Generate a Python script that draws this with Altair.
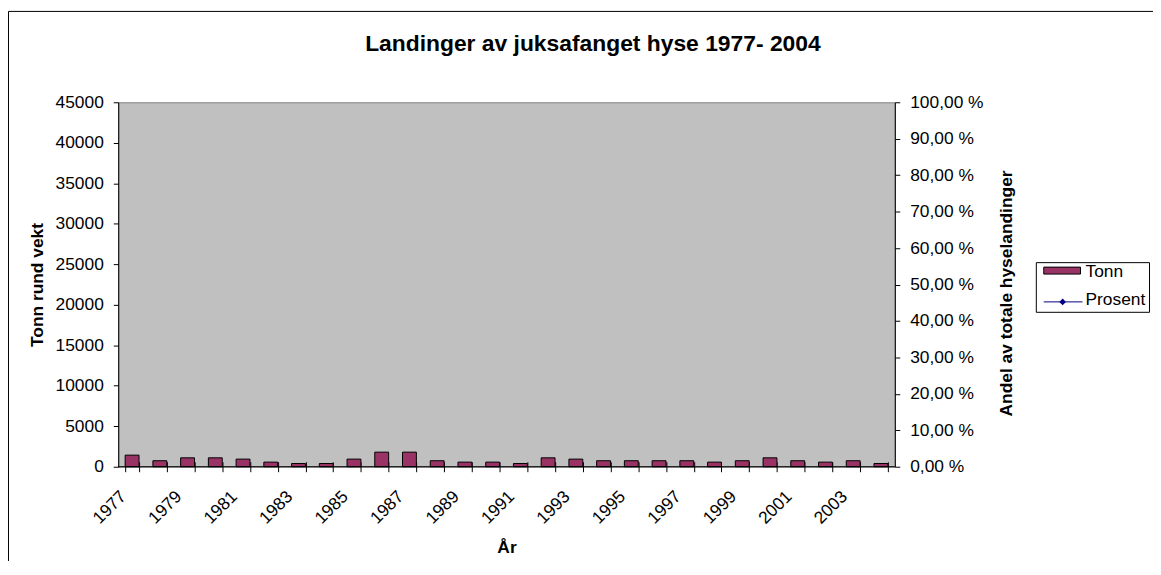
import altair as alt
import pandas as pd

# ---- data ----
years = ["1977", "1978", "1979", "1980", "1981", "1982", "1983", "1984", "1985", "1986",
         "1987", "1988", "1989", "1990", "1991", "1992", "1993", "1994", "1995", "1996",
         "1997", "1998", "1999", "2000", "2001", "2002", "2003", "2004"]
tonn = [1430, 740, 1100, 1100, 940, 570, 400, 400, 940, 1800,
        1800, 740, 570, 570, 400, 1100, 940, 740, 740, 740,
        740, 570, 740, 1100, 740, 570, 740, 400]
prosent = [None, None, None, None, None, None, None, None, None, None,
           None, None, None, None, None, None, None, None, None, None,
           None, None, None, None, None, None, None, None]
left_ticks = [0, 5000, 10000, 15000, 20000, 25000, 30000, 35000, 40000, 45000]
right_ticks = [0.0, 0.1, 0.2, 0.3, 0.4, 0.5, 0.6, 0.7, 0.8, 0.9, 1.0]
series_names = ["Tonn", "Prosent"]
title_text = "Landinger av juksafanget hyse 1977- 2004"

FONT = "Liberation Sans"
FS = 17.5
W, H = 782, 367
BAR = "#993366"
LINE = "#000080"

df = pd.DataFrame({"year": years, "tonn": tonn, "prosent": prosent})
one = pd.DataFrame({"a": [0]})

xenc = alt.X(
    "year:O", sort=None,
    scale=alt.Scale(paddingInner=0.5, paddingOuter=0.25),
    axis=alt.Axis(
        title="År", offset=-5, domain=False, tickSize=10, tickColor="black",
        tickBand="extent", labelAngle=-45, labelAlign="right", labelBaseline="middle",
        labelOffset=-9, labelPadding=22, labelOverlap=False,
        labelExpr="parseInt(datum.value) % 2 == 1 ? datum.value : ''",
        labelFont=FONT, labelFontSize=FS, labelColor="black",
        titleFont=FONT, titleFontSize=FS, titleFontWeight="bold", titleColor="black",
        titleX=W / 2, titleY=91, titleAlign="center", titleBaseline="alphabetic",
    ),
)

bars = alt.Chart(df).mark_bar(fill=BAR, stroke="black", strokeWidth=1).encode(
    x=xenc,
    y=alt.Y(
        "tonn:Q",
        scale=alt.Scale(domain=[0, 45000], nice=False),
        axis=alt.Axis(
            orient="left", title="Tonn rund vekt", values=left_ticks, format="d",
            grid=False, domainColor="black", tickColor="black", tickSize=5,
            labelPadding=10, labelFont=FONT, labelFontSize=FS, labelColor="black",
            titleFont=FONT, titleFontSize=FS, titleFontWeight="bold", titleColor="black",
            titleAngle=270, titleX=-76, titleY=H / 2, titleAlign="center",
            titleBaseline="alphabetic",
        ),
    ),
)

zero = alt.Chart(pd.DataFrame({"tonn": [0]})).mark_rule(color="black", strokeWidth=1).encode(
    y="tonn:Q"
)

pct = alt.Chart(df).mark_line(color=LINE, strokeWidth=1).encode(
    x=xenc,
    y=alt.Y(
        "prosent:Q",
        scale=alt.Scale(domain=[0, 1], nice=False),
        axis=alt.Axis(
            orient="right", title="Andel av totale hyselandinger", values=right_ticks,
            labelExpr="replace(format(datum.value * 100, '.2f'), '.', ',') + ' %'",
            grid=False, domainColor="black", tickColor="black", tickSize=5,
            labelPadding=10, labelFont=FONT, labelFontSize=FS, labelColor="black",
            titleFont=FONT, titleFontSize=FS, titleFontWeight="bold", titleColor="black",
            titleAngle=270, titleX=118, titleY=192, titleAlign="center",
            titleBaseline="alphabetic",
        ),
    ),
)

# outer chart-area border
border = alt.Chart(one).mark_rect(fillOpacity=0, stroke="black", strokeWidth=1).encode(
    x=alt.value(-110.5), x2=alt.value(1100), y=alt.value(-91.5), y2=alt.value(520)
)

# title
title = alt.Chart(one).mark_text(
    text=title_text, font=FONT, fontSize=23, fontWeight="bold",
    align="center", baseline="alphabetic", color="black"
).encode(x=alt.value(478), y=alt.value(-52))

# legend (manual, Excel style)
leg_box = alt.Chart(one).mark_rect(fill="white", stroke="black", strokeWidth=1).encode(
    x=alt.value(924.5), x2=alt.value(1038.5), y=alt.value(161.5), y2=alt.value(211.5)
)
leg_swatch = alt.Chart(one).mark_rect(fill=BAR, stroke="black", strokeWidth=1).encode(
    x=alt.value(932), x2=alt.value(969), y=alt.value(166), y2=alt.value(173)
)
leg_t1 = alt.Chart(one).mark_text(
    text=series_names[0], font=FONT, fontSize=FS, align="left", baseline="alphabetic", color="black"
).encode(x=alt.value(974), y=alt.value(176))
leg_line = alt.Chart(one).mark_rule(color=LINE, strokeWidth=1).encode(
    x=alt.value(932), x2=alt.value(971), y=alt.value(201)
)
leg_pt = alt.Chart(one).mark_point(
    shape="diamond", filled=True, color=LINE, size=45, opacity=1
).encode(x=alt.value(951), y=alt.value(201))
leg_t2 = alt.Chart(one).mark_text(
    text=series_names[1], font=FONT, fontSize=FS, align="left", baseline="alphabetic", color="black"
).encode(x=alt.value(974), y=alt.value(204))

chart = alt.layer(
    border,
    alt.layer(bars, zero),
    pct,
    title,
    leg_box, leg_swatch, leg_t1, leg_line, leg_pt, leg_t2,
).resolve_scale(y="independent").properties(
    width=W, height=H,
    padding={"left": 111, "top": 93, "right": 260, "bottom": 93},
    autosize=alt.AutoSizeParams(type="none"),
    background="white",
).configure_view(
    fill="#C0C0C0", stroke="#808080", strokeWidth=1
)

chart.save("out.html", embed_options={"renderer": "svg", "actions": False})
